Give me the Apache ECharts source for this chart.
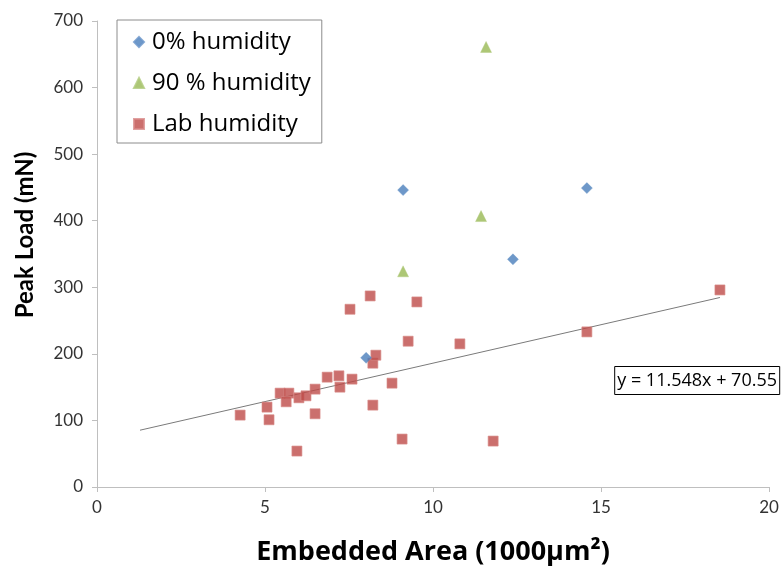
<!DOCTYPE html>
<html><head><meta charset="utf-8">
<script src="https://cdn.jsdelivr.net/npm/echarts@6/dist/echarts.min.js"></script>
<style>html,body{margin:0;padding:0;background:#fff}#c{width:784px;height:568px}</style>
</head><body><div id="c"></div>
<script>
// Data (x in 1000 µm², y in mN)
const dryX = [9.11, 14.58, 12.38, 8.01];
const dryY = [446, 449, 342, 194];
const wetX = [11.58, 11.43, 9.11];
const wetY = [661, 407, 324];
const labX = [4.26, 5.06, 5.12, 5.45, 5.71, 5.63, 6.01, 6.22, 6.49, 6.49, 5.95, 6.85, 7.20, 7.23, 7.59, 7.53, 8.13, 8.21, 8.30, 8.21, 8.78, 9.08, 9.26, 9.52, 10.80, 11.79, 14.58, 18.54];
const labY = [108, 120, 101, 141, 141, 128, 134, 137, 147, 110, 54, 165, 167, 150, 162, 267, 287, 186, 198, 123, 156, 72, 219, 278, 215, 69, 233, 296];
const trendSlope = 11.548, trendIntercept = 70.55;
const trendXRange = [1.28, 18.54];
const seriesNames = ['0% humidity', '90 % humidity', 'Lab humidity'];
const xTicks = [0, 5, 10, 15, 20];
const yTicks = [0, 100, 200, 300, 400, 500, 600, 700];
const xTitle = 'Embedded Area (1000µm²)';
const yTitle = 'Peak Load (mN)';
const equation = 'y = 11.548x + 70.55';

const zip = (a, b) => a.map((v, i) => [v, b[i]]);
const trendData = trendXRange.map(x => [x, trendSlope * x + trendIntercept]);
const FONT = 'Lato';
const WIDE = 'Open Sans';

const chart = echarts.init(document.getElementById('c'), null, {renderer: 'canvas'});
chart.setOption({
  animation: false,
  textStyle: {fontFamily: FONT},
  grid: {left: 97, right: 15, top: 21, bottom: 81, outerBoundsMode: 'none', containLabel: false},
  title: [{
    text: equation,
    right: 4, top: 366,
    padding: [6, 3, 5, 3],
    borderColor: '#000', borderWidth: 1,
    backgroundColor: '#fff',
    textStyle: {fontFamily: WIDE, fontSize: 18, fontWeight: 'normal', color: '#000'}
  }],
  graphic: [{
    type: 'text', x: 25, y: 235, rotation: Math.PI / 2,
    style: {text: yTitle, fontFamily: FONT, fontSize: 24, fontWeight: 'bold', fill: '#000', align: 'center', verticalAlign: 'middle'}
  }],
  legend: {
    orient: 'vertical', left: 117, top: 20,
    padding: [10, 11, 7, 16],
    itemGap: 17, itemWidth: 10, itemHeight: 10,
    borderColor: '#8c8c8c', borderWidth: 1,
    backgroundColor: '#fff',
    data: seriesNames,
    textStyle: {fontFamily: WIDE, fontSize: 24, color: '#000', padding: [0, 0, 0, 3]}
  },
  xAxis: {
    type: 'value', min: 0, max: 20, interval: 5,
    name: xTitle, nameLocation: 'middle', nameGap: 52,
    nameTextStyle: {fontFamily: WIDE, fontSize: 27, fontWeight: 'bold', color: '#000'},
    axisLine: {show: true, lineStyle: {color: '#bfbfbf'}},
    axisTick: {show: true, length: 5, lineStyle: {color: '#bfbfbf'}},
    axisLabel: {fontSize: 17, color: '#333', margin: 12, formatter: v => xTicks.includes(v) ? String(v) : ''},
    splitLine: {show: false}
  },
  yAxis: {
    type: 'value', min: 0, max: 700, interval: 100,
    axisLine: {show: true, lineStyle: {color: '#bfbfbf'}},
    axisTick: {show: true, length: 5, lineStyle: {color: '#bfbfbf'}},
    axisLabel: {fontSize: 17, color: '#333', margin: 14, formatter: v => yTicks.includes(v) ? String(v) : ''},
    splitLine: {show: false}
  },
  series: [
    {
      name: 'trend', type: 'line', data: trendData, symbol: 'none',
      lineStyle: {color: '#7a7a7a', width: 1}, z: 1, silent: true
    },
    {
      name: seriesNames[0], type: 'scatter', data: zip(dryX, dryY),
      symbol: 'diamond', symbolSize: 11,
      itemStyle: {color: '#4A7EBB', borderColor: '#6a95c9', borderWidth: 0.5}, z: 3
    },
    {
      name: seriesNames[1], type: 'scatter', data: zip(wetX, wetY),
      symbol: 'triangle', symbolSize: 11,
      itemStyle: {color: '#98B954', borderColor: '#afc97a', borderWidth: 0.5}, z: 3
    },
    {
      name: seriesNames[2], type: 'scatter', data: zip(labX, labY),
      symbol: 'rect', symbolSize: 10,
      itemStyle: {color: '#BE4B48', borderColor: '#d88a88', borderWidth: 0.8}, z: 2
    }
  ]
});
</script></body></html>
